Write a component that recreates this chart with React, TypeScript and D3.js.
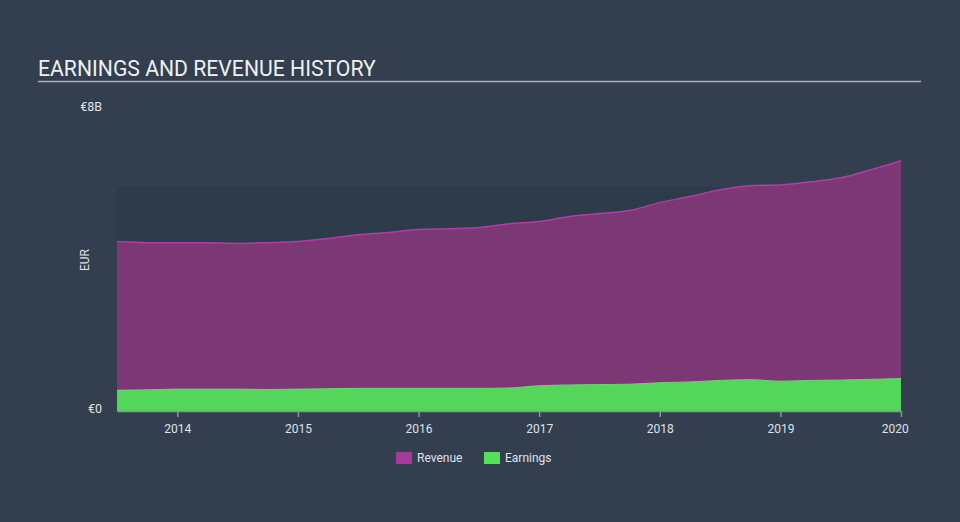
import React, { useRef, useEffect } from 'react';
import * as d3 from 'd3';

// quarterly points, mid-2013 to start of 2020 (EUR billions)
const periods = [
  2013.5, 2013.75, 2014.0, 2014.25, 2014.5, 2014.75, 2015.0, 2015.25, 2015.5,
  2015.75, 2016.0, 2016.25, 2016.5, 2016.75, 2017.0, 2017.25, 2017.5, 2017.75,
  2018.0, 2018.25, 2018.5, 2018.75, 2019.0, 2019.25, 2019.5, 2019.75, 2020.0,
];
const revenue = [
  4.49, 4.46, 4.46, 4.46, 4.44, 4.46, 4.49, 4.57, 4.67,
  4.73, 4.81, 4.83, 4.86, 4.96, 5.02, 5.15, 5.23, 5.31,
  5.52, 5.68, 5.86, 5.97, 5.99, 6.07, 6.18, 6.39, 6.63,
];
const earnings = [
  0.55, 0.56, 0.58, 0.58, 0.58, 0.57, 0.58, 0.59, 0.6,
  0.6, 0.6, 0.6, 0.6, 0.61, 0.67, 0.69, 0.7, 0.71,
  0.75, 0.77, 0.81, 0.83, 0.79, 0.81, 0.82, 0.84, 0.86,
];
const yearTicks = [2014, 2015, 2016, 2017, 2018, 2019, 2020];
const yTickLabels = ['€0', '€8B'];
const yTickValues = [0, 8];
const legendItems = [
  { name: 'Revenue', color: '#a33b9b' },
  { name: 'Earnings', color: '#55e05a' },
];

const App = () => {
  const ref = useRef<SVGSVGElement>(null);

  useEffect(() => {
    const svg = d3.select(ref.current);
    svg.selectAll('*').remove();

    const width = 960;
    const height = 522;
    const left = 117;
    const right = 901;
    const top = 109;
    const bottom = 411;

    svg.append('rect').attr('width', width).attr('height', height).attr('fill', '#333f4f');

    // title
    svg.append('text')
      .attr('x', 38).attr('y', 76)
      .attr('fill', '#eef0f2')
      .style('font-family', 'Roboto, sans-serif')
      .style('font-size', '21.2px')
      .text('EARNINGS AND REVENUE HISTORY');
    svg.append('line')
      .attr('x1', 38).attr('x2', 921).attr('y1', 81.5).attr('y2', 81.5)
      .attr('stroke', '#a7afb8').attr('stroke-width', 1.5);

    const x = d3.scaleLinear().domain([2013.5, 2020.0]).range([left, right]);
    const y = d3.scaleLinear().domain([0, 8]).range([bottom, top]);

    // shaded band
    svg.append('rect')
      .attr('x', left).attr('y', y(5.93)).attr('width', right - left).attr('height', bottom - y(5.93))
      .attr('fill', '#2d3b4a');

    const revArea = d3.area<number>()
      .x((_, i) => x(periods[i]))
      .y0(y(0))
      .y1((d) => y(d))
      .curve(d3.curveMonotoneX);
    const revLine = d3.line<number>()
      .x((_, i) => x(periods[i]))
      .y((d) => y(d))
      .curve(d3.curveMonotoneX);

    svg.append('path').datum(revenue).attr('d', revArea).attr('fill', '#7b3874');
    svg.append('path').datum(revenue).attr('d', revLine)
      .attr('fill', 'none').attr('stroke', '#b83aa8').attr('stroke-width', 1.5);

    svg.append('path').datum(earnings).attr('d', revArea).attr('fill', '#53d659');
    svg.append('path').datum(earnings).attr('d', revLine)
      .attr('fill', 'none').attr('stroke', '#5ce062').attr('stroke-width', 1);

    // x axis
    const xAxis = svg.append('g')
      .attr('transform', `translate(0, ${bottom})`)
      .call(d3.axisBottom(x).tickValues(yearTicks).tickFormat(d3.format('d')).tickSize(6).tickSizeOuter(0));
    xAxis.select('.domain').attr('stroke', '#8a949e').attr('stroke-width', 1.5);
    xAxis.selectAll('.tick line').attr('stroke', '#8a949e').attr('stroke-width', 1.5);
    xAxis.selectAll('.tick text')
      .attr('fill', '#dfe3e7')
      .attr('dy', '1.05em')
      .style('font-family', 'Roboto, sans-serif')
      .style('font-size', '12px');
    xAxis.selectAll<SVGTextElement, number>('.tick text')
      .filter((d) => d === 2020)
      .attr('text-anchor', 'end')
      .attr('dx', '0.6em');

    // y labels
    svg.selectAll('.ylab')
      .data(yTickValues)
      .enter()
      .append('text')
      .attr('x', 102)
      .attr('y', (d) => y(d) - 2)
      .attr('dy', '0.35em')
      .attr('text-anchor', 'end')
      .attr('fill', '#dfe3e7')
      .style('font-family', 'Roboto, sans-serif')
      .style('font-size', '12.5px')
      .text((_, i) => yTickLabels[i]);

    svg.append('text')
      .attr('transform', 'translate(89, 260) rotate(-90)')
      .attr('text-anchor', 'middle')
      .attr('fill', '#dfe3e7')
      .style('font-family', 'Roboto, sans-serif')
      .style('font-size', '12px')
      .text('EUR');

    // legend
    const legend = svg.append('g').attr('transform', 'translate(396, 452)');
    const offsets = [0, 88];
    legendItems.forEach((item, i) => {
      const g = legend.append('g').attr('transform', `translate(${offsets[i]}, 0)`);
      g.append('rect').attr('width', 16).attr('height', 12).attr('fill', item.color);
      g.append('text')
        .attr('x', 21).attr('y', 6).attr('dy', '0.35em')
        .attr('fill', '#dfe3e7')
        .style('font-family', 'Roboto, sans-serif')
        .style('font-size', '12px')
        .text(item.name);
    });
  }, []);

  return (
    <svg ref={ref} width={960} height={522}
      style={{ position: 'absolute', left: 0, top: 0, display: 'block' }} />
  );
};

export default App;
